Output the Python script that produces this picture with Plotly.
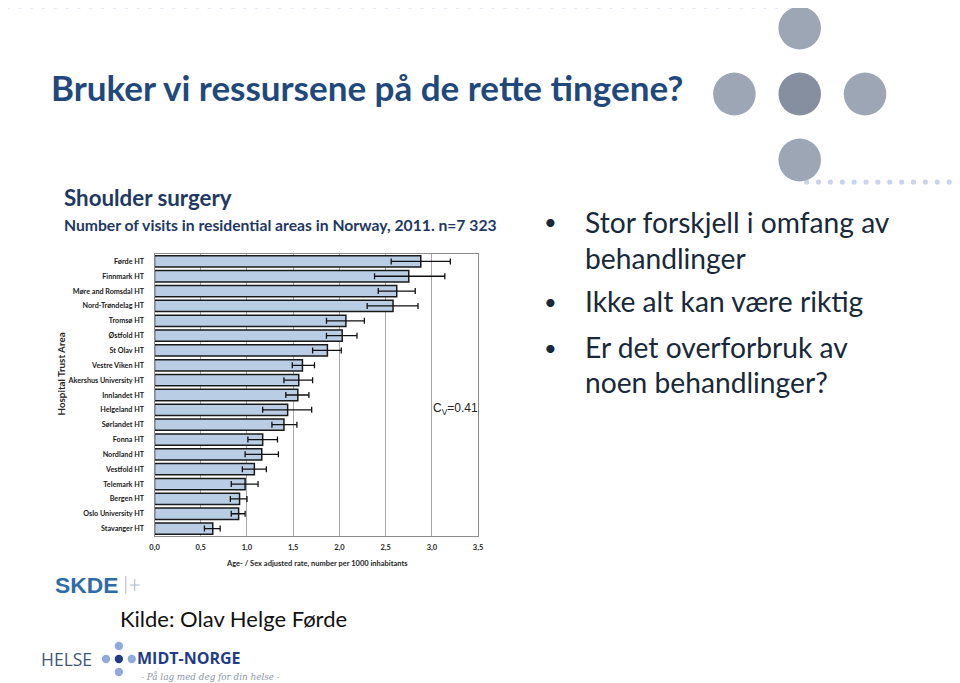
import plotly.graph_objects as go

# Shoulder surgery, rate per 1000 inhabitants (age/sex adjusted) with CI
areas = ['Førde HT', 'Finnmark HT', 'Møre and Romsdal HT', 'Nord-Trøndelag HT', 'Tromsø HT',
         'Østfold HT', 'St Olav HT', 'Vestre Viken HT', 'Akershus University HT', 'Innlandet HT',
         'Helgeland HT', 'Sørlandet HT', 'Fonna HT', 'Nordland HT', 'Vestfold HT',
         'Telemark HT', 'Bergen HT', 'Oslo University HT', 'Stavanger HT']
rate = [2.88, 2.75, 2.62, 2.58, 2.07, 2.03, 1.87, 1.60, 1.56, 1.55,
        1.44, 1.40, 1.17, 1.16, 1.08, 0.98, 0.92, 0.91, 0.63]
ci_low = [2.56, 2.38, 2.42, 2.30, 1.86, 1.86, 1.71, 1.49, 1.40, 1.42,
          1.17, 1.27, 1.01, 0.98, 0.95, 0.83, 0.82, 0.83, 0.54]
ci_high = [3.20, 3.14, 2.82, 2.85, 2.27, 2.19, 2.02, 1.73, 1.71, 1.67,
           1.70, 1.54, 1.33, 1.34, 1.21, 1.12, 1.00, 0.98, 0.71]
x_ticks = [0, 0.5, 1.0, 1.5, 2.0, 2.5, 3.0, 3.5]
x_tick_labels = ['0,0', '0,5', '1,0', '1,5', '2,0', '2,5', '3,0', '3,5']

bullets = ['Stor forskjell i omfang av', 'behandlinger', 'Ikke alt kan være riktig',
           'Er det overforbruk av', 'noen behandlinger?']

W, H = 960, 683
OFF = 8  # page body margin


def px(x):
    return (x - OFF) / W


def py(y):
    return 1 - (y - OFF) / H


fig = go.Figure()

fig.add_trace(go.Bar(
    x=rate, y=areas, orientation='h', width=0.76,
    marker=dict(color='#b9cde5', line=dict(color='#1a1a1a', width=1.5)),
    error_x=dict(type='data', symmetric=False,
                 array=[h - r for h, r in zip(ci_high, rate)],
                 arrayminus=[r - l for r, l in zip(rate, ci_low)],
                 color='#111111', thickness=1.3, width=3),
    showlegend=False, hoverinfo='skip'))

fig.update_xaxes(domain=[px(151), px(478)], range=[0, 3.5], tickvals=x_ticks, ticktext=x_tick_labels,
                 showgrid=True, gridcolor='#a6a6a6', gridwidth=1, zeroline=False,
                 showline=True, linecolor='#8c8c8c', linewidth=1, mirror=True,
                 tickfont=dict(family='Lato', size=7.5, color='#262626', weight='bold'),
                 ticklabelstandoff=4, fixedrange=True)
fig.update_yaxes(domain=[py(536), py(254)], categoryorder='array', categoryarray=areas,
                 autorange='reversed', showgrid=False, zeroline=False,
                 showline=True, linecolor='#8c8c8c', linewidth=1, mirror=True,
                 tickfont=dict(family='Lato', size=7.2, color='#1a1a1a', weight='bold'),
                 ticklabelstandoff=8, fixedrange=True)

shapes = []


def circle(cx, cy, r, col):
    shapes.append(dict(type='circle', xref='paper', yref='paper', x0=px(cx - r), x1=px(cx + r),
                       y0=py(cy + r), y1=py(cy - r), fillcolor=col, line=dict(width=0)))


def seg(x0, y0, x1, y1, col, w=1):
    shapes.append(dict(type='line', xref='paper', yref='paper', x0=px(x0), x1=px(x1),
                       y0=py(y0), y1=py(y1), line=dict(color=col, width=w)))


# dotted borders
for i in range(68):
    circle(3 + i * 11.95, 6, 2.6, '#c6d4ec')
for i in range(13):
    circle(810 + i * 12, 182, 2.6, '#c6d4ec')
# big circles
for cx, cy, col in [(803, 28, '#9ca6b4'), (737, 94, '#9ca6b4'), (803, 94, '#868fa0'),
                    (869, 94, '#9ca6b4'), (803, 160, '#9ca6b4')]:
    circle(cx, cy, 21.5, col)
# Helse Midt-Norge dots
for cx, cy, col in [(115, 646, '#8faadc'), (102, 659, '#8faadc'), (115, 659, '#203a8a'),
                    (128, 659, '#8faadc'), (115, 672, '#8faadc')]:
    circle(cx, cy, 4.2, col)
# SKDE separator and plus
seg(122, 576, 122, 594, '#a9b8cc')
seg(131, 579, 131, 591, '#a9b8cc')
seg(126, 585, 136, 585, '#a9b8cc')

annotations = []


def txt(x, y, text, size, color, family='Lato', weight='normal', xanchor='left', angle=0, style='normal'):
    annotations.append(dict(x=px(x), y=py(y), xref='paper', yref='paper', text=text, showarrow=False,
                            xanchor=xanchor, yanchor='middle', textangle=angle,
                            font=dict(family=family, size=size, color=color, weight=weight, style=style)))


txt(44, 87, 'Bruker vi ressursene på de rette tingene?', 35, '#1f497d', weight='bold')
txt(58, 197, 'Shoulder surgery', 22.3, '#1f3864', weight='bold')
txt(58, 225, 'Number of visits in residential areas in Norway, 2011. n=7 323', 15.7, '#1f3864', weight='bold')
txt(57, 374, 'Hospital Trust Area', 9.8, '#262626', weight='bold', xanchor='center', angle=-90)
txt(315, 563, 'Age- / Sex adjusted rate, number per 1000 inhabitants', 7.5, '#262626', weight='bold',
    xanchor='center')
txt(455, 409, 'C<sub>V</sub>=0.41', 12, '#222222', family='Liberation Sans', xanchor='center')

line_y = [222, 258, 301, 347, 382]
bullet_rows = [0, 2, 3]
for i, (t, yy) in enumerate(zip(bullets, line_y)):
    txt(584, yy, t, 28.2, '#17293b')
    if i in bullet_rows:
        txt(551, yy, '•', 22, '#17293b', xanchor='center')

txt(48, 585, 'SKDE', 22.8, '#2e6ca8', family='Liberation Sans', weight='bold')
txt(114, 618, 'Kilde: Olav Helge Førde', 22, '#111111')
txt(34, 659, 'HELSE', 17.5, '#3e5878', family='Open Sans')
txt(131, 658, 'MIDT-NORGE', 16, '#1f3c88', family='Open Sans', weight='bold')
txt(135, 676.5, '- På lag med deg for din helse -', 8.8, '#8a94a6', family='DejaVu Serif', style='italic')

fig.update_layout(width=W, height=H, autosize=False, margin=dict(l=0, r=0, t=0, b=0),
                  paper_bgcolor='white', plot_bgcolor='white', shapes=shapes,
                  annotations=annotations, bargap=0.28)

fig.write_html('out.html')
